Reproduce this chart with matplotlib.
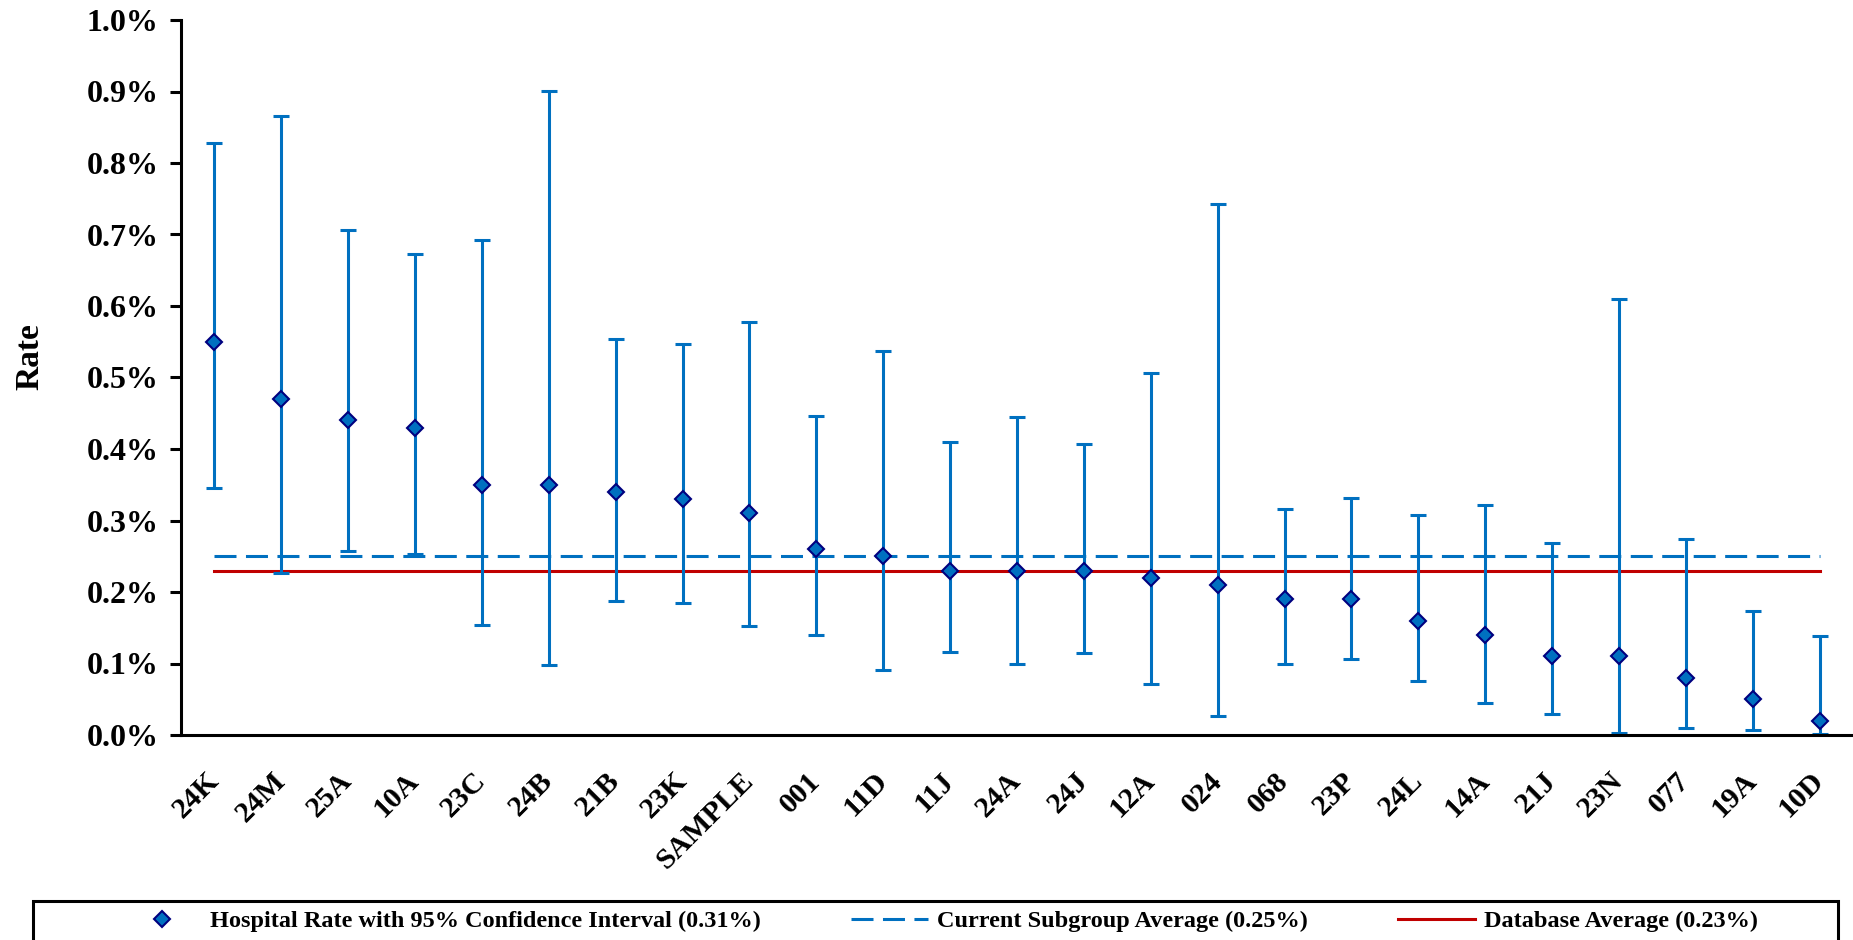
import matplotlib
matplotlib.use("Agg")
import matplotlib.pyplot as plt
from matplotlib.lines import Line2D
from matplotlib.patches import Rectangle
from matplotlib.ticker import FuncFormatter, MultipleLocator
import numpy as np

categories = ["24K", "24M", "25A", "10A", "23C", "24B", "21B", "23K", "SAMPLE", "001",
              "11D", "11J", "24A", "24J", "12A", "024", "068", "23P", "24L", "14A",
              "21J", "23N", "077", "19A", "10D"]
rates = [0.55, 0.47, 0.44, 0.43, 0.35, 0.35, 0.34, 0.33, 0.31, 0.26,
         0.25, 0.23, 0.23, 0.23, 0.22, 0.21, 0.19, 0.19, 0.16, 0.14,
         0.11, 0.11, 0.08, 0.05, 0.02]
upper = [0.828, 0.866, 0.706, 0.673, 0.693, 0.901, 0.554, 0.547, 0.578, 0.446,
         0.537, 0.410, 0.445, 0.407, 0.506, 0.742, 0.316, 0.332, 0.307, 0.321,
         0.269, 0.610, 0.274, 0.174, 0.139]
lower = [0.345, 0.226, 0.258, 0.253, 0.154, 0.0975, 0.188, 0.185, 0.152, 0.140,
         0.091, 0.116, 0.099, 0.114, 0.071, 0.026, 0.099, 0.106, 0.076, 0.045,
         0.030, 0.003, 0.010, 0.007, 0.002]
subgroup_avg = 0.25
database_avg = 0.23
hospital_avg = 0.31

plt.rcParams['font.family'] = ['Liberation Serif', 'DejaVu Serif']
plt.rcParams['font.weight'] = 'bold'

W, H = 1853, 940
fig = plt.figure(figsize=(W / 100, H / 100), dpi=100)
ax = fig.add_axes([181 / W, 1 - 735 / H, 1 - 181 / W, (735 - 20) / H])

x = np.arange(len(categories))
r = np.array(rates)
yerr = np.vstack([r - np.array(lower), np.array(upper) - r])

blue = "#0070C0"
navy = "#00007F"
red = "#C00000"
ax.errorbar(x, r, yerr=yerr, fmt='none', ecolor=blue, elinewidth=2.2,
            capsize=6, capthick=2.2, zorder=2)
ax.plot([x[0], x[-1]], [subgroup_avg, subgroup_avg], color=blue, lw=2.2,
        dashes=(7.2, 3.1), zorder=1)
ax.plot([x[0], x[-1]], [database_avg, database_avg], color=red, lw=2.2, zorder=1)
ax.plot(x, r, linestyle='none', marker='D', markersize=8.5, markerfacecolor=blue,
        markeredgecolor=navy, markeredgewidth=1.5, zorder=3)

ax.set_xlim(-0.5, len(categories) - 0.5)
ax.set_ylim(0, 1.0)
ax.yaxis.set_major_locator(MultipleLocator(0.1))
ax.yaxis.set_major_formatter(FuncFormatter(lambda v, p: f"{v:.1f}%"))
ax.set_xticks(x)
ax.set_xticklabels(categories, rotation=45, ha='right', va='center',
                   rotation_mode='anchor', fontsize=21.5, fontweight='bold')
ax.tick_params(axis='x', length=0, pad=30)
ax.tick_params(axis='y', length=8, width=2.2, direction='out', labelsize=23, pad=8)
for lab in ax.get_yticklabels():
    lab.set_fontweight('bold')
for s in ['top', 'right']:
    ax.spines[s].set_visible(False)
for s in ['left', 'bottom']:
    ax.spines[s].set_linewidth(2.2)
ax.set_ylabel("Rate", fontsize=24, fontweight='bold')
ax.yaxis.set_label_coords(-0.0813, 0.529)

# legend frame (extends past the bottom edge, as in the original)
fig.patches.append(Rectangle((33 / W, -0.05), (1838 - 33) / W, (1 - 901 / H) + 0.05,
                             transform=fig.transFigure, fill=False,
                             edgecolor='black', linewidth=2.2))

handles = [
    Line2D([], [], linestyle='none', marker='D', markersize=8, markerfacecolor=blue,
           markeredgecolor=navy, markeredgewidth=1.5),
    Line2D([], [], color=blue, lw=2.2, dashes=(7.2, 3.1)),
    Line2D([], [], color=red, lw=2.2),
]
labels = [f"Hospital Rate with 95% Confidence Interval ({hospital_avg:.2f}%)",
          f"Current Subgroup Average ({subgroup_avg:.2f}%)",
          f"Database Average ({database_avg:.2f}%)"]
leg = fig.legend(handles, labels, loc='center',
                 bbox_to_anchor=(941 / W, 1 - 921 / H),
                 ncol=3, frameon=False,
                 prop={'family': 'Liberation Serif', 'weight': 'bold', 'size': 17.5},
                 handlelength=3.2, handletextpad=0.37, columnspacing=3.68,
                 borderpad=0, borderaxespad=0)

fig.savefig("out.png", dpi=100)
